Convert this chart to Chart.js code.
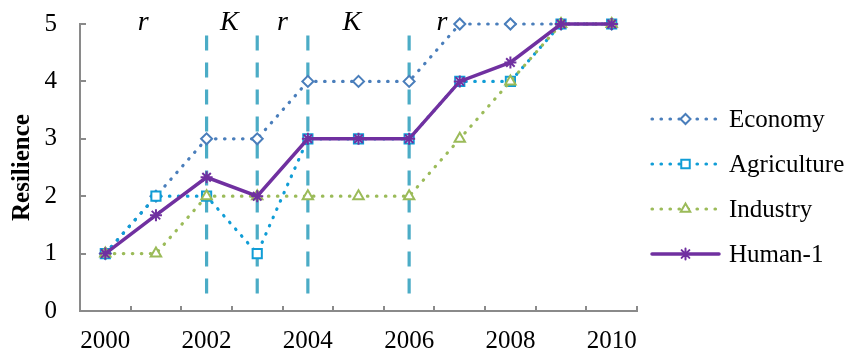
<!DOCTYPE html>
<html>
<head>
<meta charset="utf-8">
<script src="https://cdn.jsdelivr.net/npm/chart.js@4"></script>
<style>
  html, body { margin: 0; padding: 0; background: #fff; }
</style>
</head>
<body>
<canvas id="chart" width="853" height="354"></canvas>
<script>
// data
const years = ['2000', '2001', '2002', '2003', '2004', '2005', '2006', '2007', '2008', '2009', '2010'];
const economy = [1, 2, 3, 3, 4, 4, 4, 5, 5, 5, 5];
const agriculture = [1, 2, 2, 1, 3, 3, 3, 4, 4, 5, 5];
const industry = [1, 1, 2, 2, 2, 2, 2, 3, 4, 5, 5];
const human1 = [1, 1.67, 2.33, 2, 3, 3, 3, 4, 4.33, 5, 5];
const yTicks = [0, 1, 2, 3, 4, 5];

// phase annotations (r / K) and the dashed break years
const phaseLabels = ['r', 'K', 'r', 'K', 'r'];
const phaseAt = [0.75, 2.45, 3.5, 4.87, 6.65]; // category index
const breakYears = ['2002', '2003', '2004', '2006'];

const serif = '"Liberation Serif", "Times New Roman", serif';

const series = [
  { label: 'Economy', data: economy, color: '#4a7ebb', dotted: true, pointStyle: 'rectRot', radius: 5.5, order: 3 },
  { label: 'Agriculture', data: agriculture, color: '#109dd6', dotted: true, pointStyle: 'rect', radius: 6.5, order: 2 },
  { label: 'Industry', data: industry, color: '#9bbb59', dotted: true, pointStyle: 'triangle', radius: 6, order: 1 },
  { label: 'Human-1', data: human1, color: '#7030a0', dotted: false, pointStyle: 'star', radius: 6, order: 0 }
];

const datasets = series.map(s => ({
  label: s.label,
  data: s.data,
  borderColor: s.color,
  backgroundColor: '#ffffff',
  borderWidth: s.dotted ? 3.2 : 3.5,
  borderDash: s.dotted ? [0.5, 8.5] : [],
  borderCapStyle: 'round',
  pointStyle: s.pointStyle,
  pointRadius: s.radius,
  pointBorderWidth: 2,
  pointBorderColor: s.color,
  pointBackgroundColor: '#ffffff',
  tension: 0,
  clip: false,
  order: s.order
}));

const annotations = {
  id: 'annotations',
  beforeDatasetsDraw(chart) {
    const { ctx, scales: { x, y } } = chart;
    ctx.save();
    ctx.strokeStyle = '#4bacc6';
    ctx.lineWidth = 3.2;
    ctx.setLineDash([15, 12]);
    breakYears.forEach(yr => {
      const px = x.getPixelForValue(years.indexOf(yr));
      ctx.beginPath();
      ctx.moveTo(px, y.getPixelForValue(4.8));
      ctx.lineTo(px, y.getPixelForValue(0.13));
      ctx.stroke();
    });
    ctx.restore();
  },
  afterDraw(chart) {
    const { ctx, scales: { x, y } } = chart;
    ctx.save();
    ctx.fillStyle = '#000';
    ctx.font = 'italic 28px ' + serif;
    ctx.textAlign = 'center';
    ctx.textBaseline = 'alphabetic';
    phaseLabels.forEach((t, i) => {
      ctx.fillText(t, x.getPixelForValue(phaseAt[i]), y.getPixelForValue(4.9));
    });

    // legend: line sample with marker, then the name
    const left = chart.chartArea.right + 15;
    series.forEach((s, i) => {
      const cy = 119 + i * 45;
      ctx.save();
      ctx.strokeStyle = s.color;
      ctx.lineCap = 'round';
      ctx.lineWidth = s.dotted ? 3.2 : 3.5;
      ctx.setLineDash(s.dotted ? [0.5, 8.5] : []);
      ctx.beginPath();
      ctx.moveTo(left, cy);
      ctx.lineTo(left + 67, cy);
      ctx.stroke();
      ctx.setLineDash([]);
      ctx.fillStyle = '#ffffff';
      ctx.lineWidth = 2;
      Chart.helpers.drawPoint(ctx, { pointStyle: s.pointStyle, radius: s.radius - 0.5, rotation: 0, borderWidth: 2 }, left + 33.5, cy);
      ctx.restore();
      ctx.fillStyle = '#000';
      ctx.font = '25px ' + serif;
      ctx.textAlign = 'left';
      ctx.textBaseline = 'middle';
      ctx.fillText(s.label, left + 77, cy + 1);
    });
    ctx.restore();
  }
};

new Chart(document.getElementById('chart'), {
  type: 'line',
  data: { labels: years, datasets: datasets },
  plugins: [annotations],
  options: {
    responsive: false,
    animation: false,
    events: [],
    layout: { padding: { top: 24, left: 0, right: 216, bottom: 0 } },
    scales: {
      x: {
        type: 'category',
        offset: true,
        afterFit: axis => { axis.height = 43; },
        border: { color: '#8a8a8a', width: 2 },
        grid: { offset: true, drawOnChartArea: false, color: '#8a8a8a', lineWidth: 2, tickLength: -5 },
        ticks: {
          autoSkip: false,
          maxRotation: 0,
          color: '#000',
          padding: 20,
          font: { family: serif, size: 25 },
          callback: (v, i) => (i % 2 === 0 ? years[i] : '')
        }
      },
      y: {
        min: 0,
        max: 5,
        afterFit: axis => { axis.width = 80; axis.paddingTop = 0; axis.paddingBottom = 0; },
        afterBuildTicks: axis => { axis.ticks = yTicks.map(v => ({ value: v })); },
        border: { color: '#8a8a8a', width: 2 },
        grid: { drawOnChartArea: false, color: '#8a8a8a', lineWidth: 2, tickLength: -6 },
        ticks: { color: '#000', padding: 29, font: { family: serif, size: 25 } },
        title: {
          display: true,
          text: 'Resilience',
          color: '#000',
          padding: { top: 8, bottom: 0 },
          font: { family: serif, size: 25, weight: 'bold' }
        }
      }
    },
    plugins: {
      tooltip: { enabled: false },
      legend: { display: false }
    }
  }
});
</script>
</body>
</html>
